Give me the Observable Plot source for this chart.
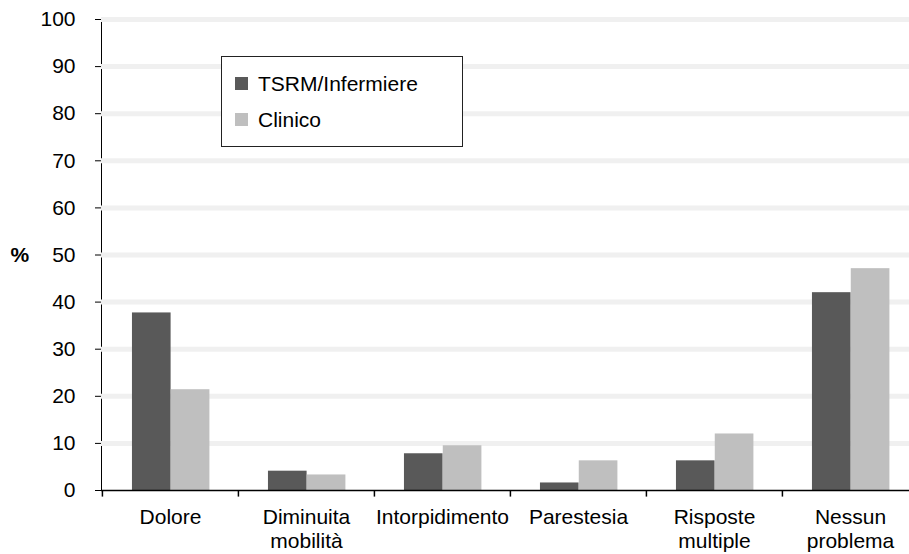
<!DOCTYPE html>
<html>
<head>
<meta charset="utf-8">
<script src="https://cdn.jsdelivr.net/npm/d3@7"></script>
<script src="https://cdn.jsdelivr.net/npm/@observablehq/plot@0.6"></script>
<style>
  html, body { margin: 0; padding: 0; background: #fff; overflow: hidden; }
  #chart { position: relative; width: 909px; height: 554px; font-family: "Liberation Sans", Arial, sans-serif; }
  #legend {
    position: absolute; left: 221px; top: 56px; width: 240px; height: 89px;
    border: 1.5px solid #222; background: #fff; font-size: 21px; color: #000;
  }
  #legend .row { position: absolute; left: 13px; display: flex; align-items: center; height: 20px; }
  #legend .sw { width: 13px; height: 13px; margin-right: 10px; }
</style>
</head>
<body>
<div id="chart"></div>
<script>
// Categories (x), series, and percentages per series
const categories = ["Dolore", "Diminuita\nmobilità", "Intorpidimento", "Parestesia", "Risposte\nmultiple", "Nessun\nproblema"];
const series = ["TSRM/Infermiere", "Clinico"];
const tsrmValues = [37.7, 4.1, 7.8, 1.6, 6.3, 42.0];
const clinicoValues = [21.4, 3.3, 9.5, 6.3, 12.0, 47.1];
const yTicks = [0, 10, 20, 30, 40, 50, 60, 70, 80, 90, 100];
const colors = ["#595959", "#bfbfbf"];

const rows = categories.flatMap((c, i) => [
  {category: c, series: series[0], value: tsrmValues[i]},
  {category: c, series: series[1], value: clinicoValues[i]}
]);

const W = 909, H = 554;
const left = 101, right = 918;           // category axis runs slightly past the right edge
const step = (right - left) / categories.length;
const gStart = 0.22 * step, gMid = 0.505 * step, gEnd = 0.79 * step;

const chart = Plot.plot({
  width: W,
  height: H,
  marginLeft: left,
  marginRight: 0,
  marginTop: 19,
  marginBottom: 64,
  style: {fontSize: "21px", fontFamily: "'Liberation Sans', Arial, sans-serif", color: "#000", background: "#fff", overflow: "visible"},
  x: {domain: categories, range: [left, right], padding: 0, axis: null},
  y: {domain: [0, 100], ticks: yTicks, tickSize: 6, tickPadding: 20, line: true, label: null},
  color: {domain: series, range: colors},
  marks: [
    Plot.ruleY(yTicks.filter(d => d > 0), {stroke: "#f0f0f0", strokeWidth: 5}),
    Plot.barY(rows.filter(d => d.series === series[0]), {
      x: "category", y: "value", fill: "series",
      insetLeft: gStart, insetRight: step - gMid
    }),
    Plot.barY(rows.filter(d => d.series === series[1]), {
      x: "category", y: "value", fill: "series",
      insetLeft: gMid, insetRight: step - gEnd
    }),
    Plot.ruleY([0], {stroke: "#000", strokeWidth: 1.5}),
    // tick marks between categories
    Plot.ruleX(categories, {x: d => d, dx: -step / 2, y1: 0, y2: -1.4, stroke: "#000", strokeWidth: 1.5}),
    // category labels
    Plot.text(categories, {x: d => d, y: 0, text: d => d, dy: 16, lineAnchor: "top", lineHeight: 1.15, fill: "#000"}),
    // y-axis unit
    Plot.text(["%"], {y: 50, frameAnchor: "left", text: d => d, textAnchor: "start", dx: -91, fontWeight: "bold", fill: "#000"})
  ]
});

const root = document.getElementById("chart");
root.appendChild(chart);

const legend = document.createElement("div");
legend.id = "legend";
series.forEach((s, i) => {
  const row = document.createElement("div");
  row.className = "row";
  row.style.top = (i === 0 ? 16.5 : 52.5) + "px";
  const sw = document.createElement("span");
  sw.className = "sw";
  sw.style.background = colors[i];
  const label = document.createElement("span");
  label.textContent = s;
  row.appendChild(sw);
  row.appendChild(label);
  legend.appendChild(row);
});
root.appendChild(legend);
</script>
</body>
</html>
